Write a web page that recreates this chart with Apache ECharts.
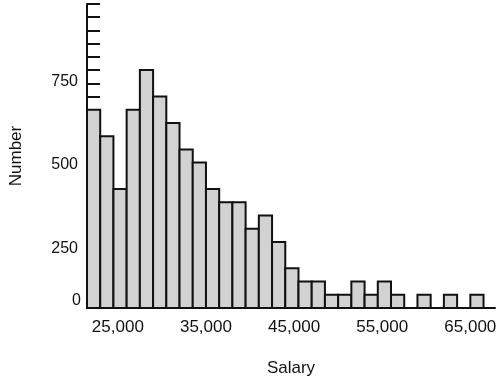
<!DOCTYPE html>
<html>
<head>
<meta charset="utf-8">
<script src="https://cdn.jsdelivr.net/npm/echarts@6/dist/echarts.min.js"></script>
<style>html,body{margin:0;padding:0;background:#fff;}#c{width:500px;height:383px;}</style>
</head>
<body>
<div id="c"></div>
<script>
// Histogram bins (salary), each 1,500 wide
const binStart = 21500;
const binWidth = 1500;
const counts = [600,520,360,600,720,640,560,480,440,360,320,320,240,280,200,120,80,80,40,40,80,40,80,40,0,40,0,40,0,40];
const xTickLabels = [25000, 35000, 45000, 55000, 65000];
const yTickLabels = [250, 500, 750];

const data = counts.map((c, i) => [binStart + i * binWidth, binStart + (i + 1) * binWidth, c]);
const fmt = v => String(v).replace(/\B(?=(\d{3})+(?!\d))/g, ',');
const FONT = 'Liberation Sans, Arial, sans-serif';

const chart = echarts.init(document.getElementById('c'), null, {renderer: 'canvas'});
chart.setOption({
  animation: false,
  grid: {left: 86, top: 4, right: 5, bottom: 75, containLabel: false},
  xAxis: {
    type: 'value', min: 21500, max: 67800,
    name: 'Salary', nameLocation: 'middle', nameGap: 52,
    nameTextStyle: {fontFamily: FONT, fontSize: 17, color: '#111'},
    axisLine: {show: true, lineStyle: {color: '#111', width: 2}},
    axisTick: {show: false},
    splitLine: {show: false},
    axisLabel: {customValues: xTickLabels, formatter: v => fmt(v), margin: 11,
      fontFamily: FONT, fontSize: 17, color: '#111'}
  },
  yAxis: [{
    type: 'value', min: 0, max: 920, interval: 40,
    name: 'Number', nameLocation: 'middle', nameGap: 62,
    nameTextStyle: {fontFamily: FONT, fontSize: 17, color: '#111'},
    axisLine: {show: true, lineStyle: {color: '#111', width: 2}},
    axisTick: {show: true, inside: true, length: 13, lineStyle: {color: '#111', width: 2}},
    splitLine: {show: false},
    axisLabel: {customValues: [0], margin: 6, verticalAlign: 'bottom', lineHeight: 14,
      fontFamily: FONT, fontSize: 16, color: '#111'}
  }, {
    type: 'value', min: 70, max: 984, position: 'left', offset: 0,
    axisLine: {show: false}, axisTick: {show: false}, splitLine: {show: false},
    axisLabel: {customValues: yTickLabels, margin: 9,
      fontFamily: FONT, fontSize: 16, color: '#111'}
  }],
  series: [{
    type: 'custom',
    xAxisIndex: 0, yAxisIndex: 0,
    encode: {x: [0, 1], y: 2},
    data: data,
    renderItem: function (params, api) {
      const v = api.value(2);
      if (!v) return null;
      const p0 = api.coord([api.value(0), 0]);
      const p1 = api.coord([api.value(1), v]);
      return {
        type: 'rect',
        shape: {x: p0[0], y: p1[1], width: p1[0] - p0[0], height: p0[1] - p1[1]},
        style: {fill: '#d2d2d2', stroke: '#111', lineWidth: 2}
      };
    }
  }]
});
</script>
</body>
</html>
